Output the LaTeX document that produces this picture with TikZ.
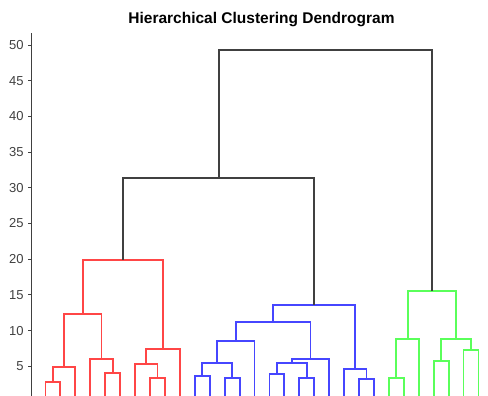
\documentclass[tikz,border=0pt]{standalone}
\usepackage{fontspec}
\setmainfont{Liberation Sans}
\begin{document}
\begin{tikzpicture}[
  link/.style={line width=1.9pt},
  redl/.style={link, draw={rgb,255:red,255;green,70;blue,70}},
  bluel/.style={link, draw={rgb,255:red,70;green,70;blue,255}},
  greenl/.style={link, draw={rgb,255:red,90;green,255;blue,90}},
  blackl/.style={link, draw=black!75},
  axisl/.style={line width=0.9pt, draw=black!75},
  ticklab/.style={anchor=east, inner sep=0pt, text=black!75, font=\fontsize{13}{13}\selectfont},
  titlelab/.style={inner sep=0pt, font=\fontsize{15.5}{15.5}\selectfont\bfseries}
]
\useasboundingbox (0,0) rectangle (488pt,396pt);
\clip (0,0) rectangle (488pt,396pt);

\node[titlelab] (title) at (261.5pt,376pt) {Hierarchical Clustering Dendrogram};

% data frame: one unit per leaf horizontally, one unit of distance vertically
\begin{scope}[x=14.93pt, y=7.14pt, shift={(45.5pt,-6pt)}]

  % vertical axis with ticks and labels
  \coordinate (axbot) at (-0.971,0);
  \coordinate (axtop) at (-0.971,51.7);
  \draw[axisl] (axbot) -- (axtop);
  \foreach \v in {5,10,...,50} {
    \coordinate (t\v) at (-0.971,\v);
    \coordinate (tl\v) at (-1.14,\v);
    \draw[axisl] (tl\v) -- (t\v);
    \node[ticklab] (lab\v) at (-1.45,\v) {\v};
  }

  % leaves
  \foreach \i in {0,...,29} { \coordinate (L\i) at (\i,0); }

  % red cluster
  \coordinate (r01)   at (0.5,2.8);
  \coordinate (r012)  at (1.25,4.9);
  \coordinate (r45)   at (4.5,4.1);
  \coordinate (r345)  at (3.75,6.0);
  \coordinate (rA)    at (2.5,12.3);
  \coordinate (r78)   at (7.5,3.3);
  \coordinate (r678)  at (6.75,5.3);
  \coordinate (r6789) at (7.875,7.4);
  \coordinate (rTop)  at (5.1875,19.9);
  \draw[redl] (L0) |- (r01) -| (L1);
  \draw[redl] (r01) |- (r012) -| (L2);
  \draw[redl] (L4) |- (r45) -| (L5);
  \draw[redl] (L3) |- (r345) -| (r45);
  \draw[redl] (r012) |- (rA) -| (r345);
  \draw[redl] (L7) |- (r78) -| (L8);
  \draw[redl] (L6) |- (r678) -| (r78);
  \draw[redl] (r678) |- (r6789) -| (L9);
  \draw[redl] (rA) |- (rTop) -| (r6789);

  % blue cluster
  \coordinate (b1011) at (10.5,3.6);
  \coordinate (b1213) at (12.5,3.3);
  \coordinate (b1)    at (11.5,5.5);
  \coordinate (b2)    at (12.75,8.5);
  \coordinate (b1516) at (15.5,3.9);
  \coordinate (b1718) at (17.5,3.3);
  \coordinate (b3)    at (16.5,5.5);
  \coordinate (b4)    at (17.75,6.0);
  \coordinate (b5)    at (15.25,11.2);
  \coordinate (b2122) at (21.5,3.2);
  \coordinate (b6)    at (20.75,4.6);
  \coordinate (bTop)  at (18.0,13.6);
  \draw[bluel] (L10) |- (b1011) -| (L11);
  \draw[bluel] (L12) |- (b1213) -| (L13);
  \draw[bluel] (b1011) |- (b1) -| (b1213);
  \draw[bluel] (b1) |- (b2) -| (L14);
  \draw[bluel] (L15) |- (b1516) -| (L16);
  \draw[bluel] (L17) |- (b1718) -| (L18);
  \draw[bluel] (b1516) |- (b3) -| (b1718);
  \draw[bluel] (b3) |- (b4) -| (L19);
  \draw[bluel] (b2) |- (b5) -| (b4);
  \draw[bluel] (L21) |- (b2122) -| (L22);
  \draw[bluel] (L20) |- (b6) -| (b2122);
  \draw[bluel] (b5) |- (bTop) -| (b6);

  % green cluster
  \coordinate (g2324) at (23.5,3.4);
  \coordinate (g1)    at (24.25,8.8);
  \coordinate (g2627) at (26.5,5.7);
  \coordinate (g2829) at (28.5,7.3);
  \coordinate (g2)    at (27.5,8.8);
  \coordinate (gTop)  at (25.875,15.5);
  \draw[greenl] (L23) |- (g2324) -| (L24);
  \draw[greenl] (g2324) |- (g1) -| (L25);
  \draw[greenl] (L26) |- (g2627) -| (L27);
  \draw[greenl] (L28) |- (g2829) -| (L29);
  \draw[greenl] (g2627) |- (g2) -| (g2829);
  \draw[greenl] (g1) |- (gTop) -| (g2);

  % upper links
  \coordinate (k1)   at (11.59375,31.4);
  \coordinate (kTop) at (18.734,49.3);
  \draw[blackl] (rTop) |- (k1) -| (bTop);
  \draw[blackl] (k1) |- (kTop) -| (gTop);
\end{scope}
\end{tikzpicture}
\end{document}
